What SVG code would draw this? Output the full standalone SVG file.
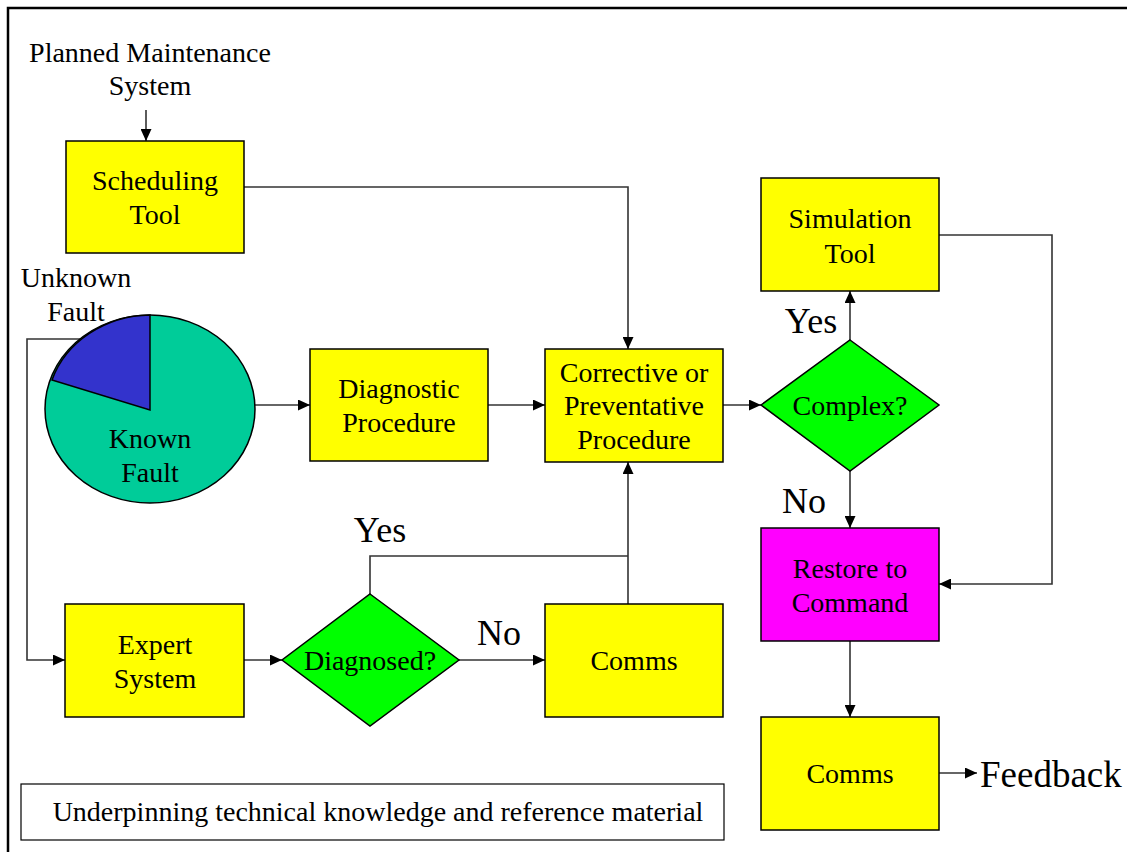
<svg xmlns="http://www.w3.org/2000/svg" width="1127" height="852" viewBox="0 0 1127 852">
<defs>
<style>
text{font-family:"Liberation Serif","Times New Roman",serif;fill:#000;text-anchor:middle}
.t{font-size:28px}
.b{font-size:36px}
.box{fill:#FFFF00;stroke:#000;stroke-width:1.5}
.dia{fill:#00FF00;stroke:#000;stroke-width:1.5}
.c{fill:none;stroke:#333;stroke-width:1.6}
</style>
<marker id="ah" viewBox="0 0 12 11" refX="12" refY="5.5" markerWidth="12" markerHeight="11" markerUnits="userSpaceOnUse" orient="auto">
<path d="M0,0 L12,5.5 L0,11 Z" fill="#000"/>
</marker>
</defs>
<rect width="1127" height="852" fill="#fff"/>
<path d="M8,852 V8 H1127" fill="none" stroke="#000" stroke-width="2.5"/>

<g id="connectors">
<path class="c" d="M146,110 V141" marker-end="url(#ah)"/>
<path class="c" d="M244,187 H628 V349" marker-end="url(#ah)"/>
<path class="c" d="M255,405 H310" marker-end="url(#ah)"/>
<path class="c" d="M488,405 H545" marker-end="url(#ah)"/>
<path class="c" d="M723,405 H761" marker-end="url(#ah)"/>
<path class="c" d="M850,340 V291" marker-end="url(#ah)"/>
<path class="c" d="M850,471 V528" marker-end="url(#ah)"/>
<path class="c" d="M939,235 H1052 V584 H939" marker-end="url(#ah)"/>
<path class="c" d="M850,641 V717" marker-end="url(#ah)"/>
<path class="c" d="M939,773 H977" marker-end="url(#ah)"/>
<path class="c" d="M80,339 H27 V660 H65" marker-end="url(#ah)"/>
<path class="c" d="M244,660 H282" marker-end="url(#ah)"/>
<path class="c" d="M459,660 H545" marker-end="url(#ah)"/>
<path class="c" d="M370,594 V556 H628"/>
<path class="c" d="M628,604 V462" marker-end="url(#ah)"/>
</g>

<g id="planned-maintenance">
<text class="t" x="150" y="62">Planned Maintenance</text>
<text class="t" x="150" y="95">System</text>
</g>

<g id="scheduling-tool">
<rect class="box" x="66" y="141" width="178" height="112"/>
<text class="t" x="155" y="190">Scheduling</text>
<text class="t" x="155" y="224">Tool</text>
</g>

<g id="fault-pie">
<ellipse cx="150" cy="409" rx="105" ry="94" fill="#00CC99" stroke="#000" stroke-width="1.5"/>
<path d="M150,410 L150,315 A105,94 0 0 0 52,380 Z" fill="#3333CC" stroke="#000" stroke-width="1.5"/>
<text class="t" x="76" y="287">Unknown</text>
<text class="t" x="76" y="321">Fault</text>
<text class="t" x="150" y="448">Known</text>
<text class="t" x="150" y="482">Fault</text>
</g>

<g id="diagnostic-procedure">
<rect class="box" x="310" y="349" width="178" height="112"/>
<text class="t" x="399" y="398">Diagnostic</text>
<text class="t" x="399" y="432">Procedure</text>
</g>

<g id="corrective-procedure">
<rect class="box" x="545" y="349" width="178" height="113"/>
<text class="t" x="634" y="382">Corrective or</text>
<text class="t" x="634" y="415">Preventative</text>
<text class="t" x="634" y="449">Procedure</text>
</g>

<g id="simulation-tool">
<rect class="box" x="761" y="178" width="178" height="113"/>
<text class="t" x="850" y="228">Simulation</text>
<text class="t" x="850" y="263">Tool</text>
</g>

<g id="complex">
<polygon class="dia" points="850,340 939,405 850,471 761,405"/>
<text class="t" x="850" y="415">Complex?</text>
<text class="b" x="811" y="333">Yes</text>
<text class="b" x="804" y="513">No</text>
</g>

<g id="restore-to-command">
<rect x="761" y="528" width="178" height="113" fill="#FF00FF" stroke="#000" stroke-width="1.5"/>
<text class="t" x="850" y="578">Restore to</text>
<text class="t" x="850" y="612">Command</text>
</g>

<g id="comms-feedback">
<rect class="box" x="761" y="717" width="178" height="113"/>
<text class="t" x="850" y="783">Comms</text>
<text x="980" y="787" style="text-anchor:start;font-size:37px">Feedback</text>
</g>

<g id="expert-system">
<rect class="box" x="65" y="604" width="179" height="113"/>
<text class="t" x="155" y="654">Expert</text>
<text class="t" x="155" y="688">System</text>
</g>

<g id="diagnosed">
<polygon class="dia" points="370,594 459,660 370,726 282,660"/>
<text class="t" x="370" y="670">Diagnosed?</text>
<text class="b" x="380" y="542">Yes</text>
<text class="b" x="499" y="645">No</text>
</g>

<g id="comms">
<rect class="box" x="545" y="604" width="178" height="113"/>
<text class="t" x="634" y="670">Comms</text>
</g>

<g id="reference-material">
<rect x="21" y="784" width="703" height="56" fill="#fff" stroke="#000" stroke-width="1.2"/>
<text class="t" x="378" y="821">Underpinning technical knowledge and reference material</text>
</g>
</svg>
